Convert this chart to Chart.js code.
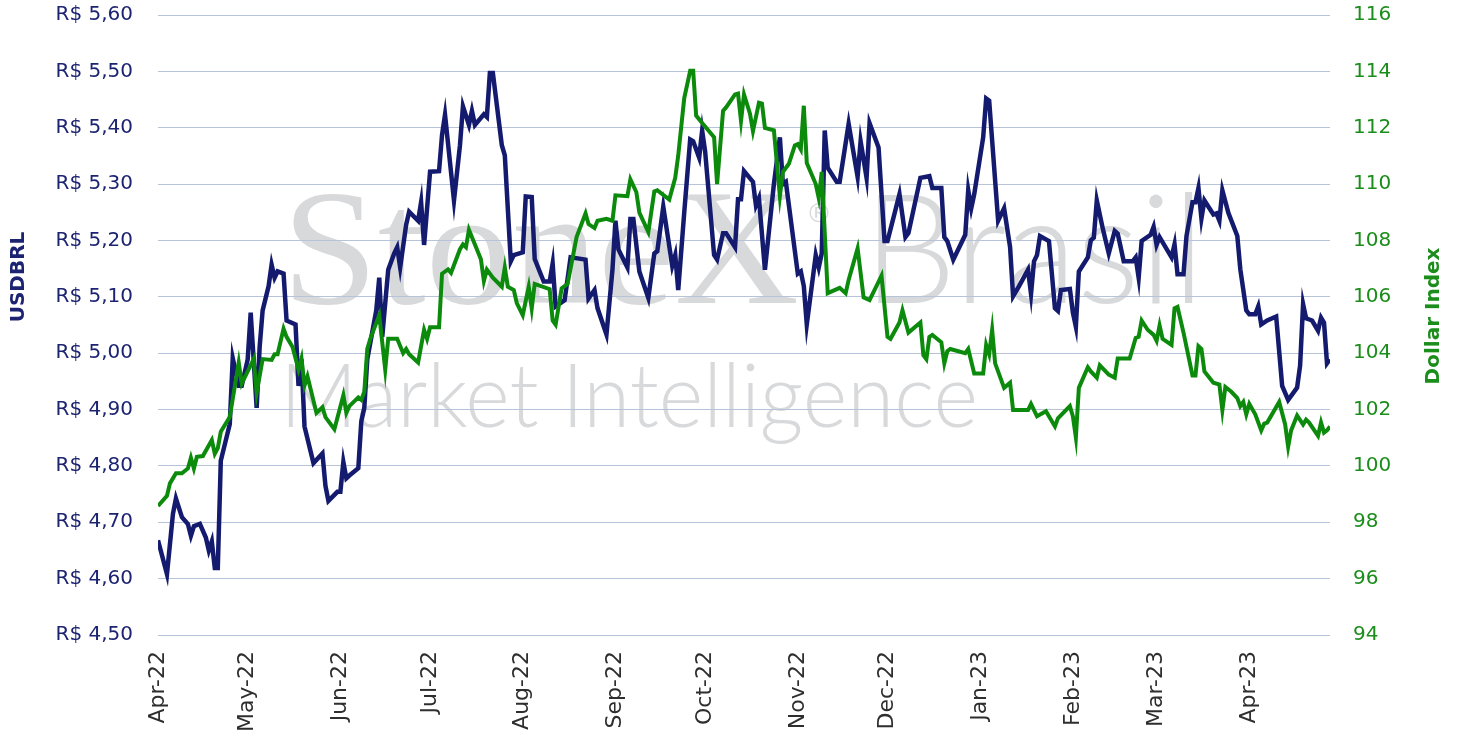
<!DOCTYPE html>
<html>
<head>
<meta charset="utf-8">
<script src="https://cdn.jsdelivr.net/npm/chart.js@4.4.1/dist/chart.umd.min.js"></script>
<style>
  html, body { margin: 0; padding: 0; background: #fff; }
  #wrap { width: 1458px; height: 738px; }
</style>
</head>
<body>
<div id="wrap"><canvas id="myChart"></canvas></div>
<script>
// month ticks on the date axis
const monthLabels = ['Apr-22', 'May-22', 'Jun-22', 'Jul-22', 'Aug-22', 'Sep-22', 'Oct-22',
  'Nov-22', 'Dec-22', 'Jan-23', 'Feb-23', 'Mar-23', 'Apr-23'];
const monthStarts = ['2022-04-01', '2022-05-01', '2022-06-01', '2022-07-01', '2022-08-01', '2022-09-01',
  '2022-10-01', '2022-11-01', '2022-12-01', '2023-01-01', '2023-02-01', '2023-03-01', '2023-04-01'];

// USDBRL (left axis)
const usdDates = [
  '2022-04-01','2022-04-04','2022-04-06','2022-04-07','2022-04-09','2022-04-11','2022-04-12','2022-04-13','2022-04-15','2022-04-17',
  '2022-04-18','2022-04-19','2022-04-20','2022-04-21','2022-04-22','2022-04-25','2022-04-26','2022-04-28','2022-04-29','2022-05-01',
  '2022-05-02','2022-05-04','2022-05-05','2022-05-06','2022-05-08','2022-05-09','2022-05-10','2022-05-11','2022-05-13','2022-05-14',
  '2022-05-17','2022-05-18','2022-05-19','2022-05-20','2022-05-23','2022-05-26','2022-05-27','2022-05-28','2022-05-31','2022-06-01',
  '2022-06-02','2022-06-03','2022-06-04','2022-06-07','2022-06-08','2022-06-09','2022-06-10','2022-06-13','2022-06-14','2022-06-15',
  '2022-06-17','2022-06-19','2022-06-20','2022-06-21','2022-06-23','2022-06-24','2022-06-27','2022-06-28','2022-06-29','2022-07-01',
  '2022-07-04','2022-07-05','2022-07-06','2022-07-09','2022-07-11','2022-07-12','2022-07-14','2022-07-15','2022-07-16','2022-07-19',
  '2022-07-20','2022-07-21','2022-07-22','2022-07-25','2022-07-26','2022-07-28','2022-07-29','2022-08-01','2022-08-02','2022-08-04',
  '2022-08-05','2022-08-08','2022-08-10','2022-08-11','2022-08-12','2022-08-15','2022-08-17','2022-08-22','2022-08-23','2022-08-25',
  '2022-08-26','2022-08-29','2022-08-31','2022-09-01','2022-09-02','2022-09-05','2022-09-06','2022-09-07','2022-09-09','2022-09-12',
  '2022-09-14','2022-09-15','2022-09-17','2022-09-20','2022-09-21','2022-09-22','2022-09-24','2022-09-26','2022-09-27','2022-09-29',
  '2022-09-30','2022-10-01','2022-10-04','2022-10-05','2022-10-07','2022-10-08','2022-10-11','2022-10-12','2022-10-13','2022-10-14',
  '2022-10-17','2022-10-18','2022-10-19','2022-10-21','2022-10-24','2022-10-26','2022-10-27','2022-10-28','2022-11-01','2022-11-02',
  '2022-11-03','2022-11-04','2022-11-07','2022-11-08','2022-11-09','2022-11-10','2022-11-11','2022-11-14','2022-11-15','2022-11-18',
  '2022-11-21','2022-11-22','2022-11-24','2022-11-25','2022-11-28','2022-11-30','2022-12-01','2022-12-05','2022-12-07','2022-12-08',
  '2022-12-12','2022-12-15','2022-12-16','2022-12-19','2022-12-20','2022-12-21','2022-12-23','2022-12-27','2022-12-28','2022-12-29',
  '2022-12-30','2023-01-02','2023-01-03','2023-01-04','2023-01-07','2023-01-09','2023-01-11','2023-01-12','2023-01-14','2023-01-17',
  '2023-01-18','2023-01-19','2023-01-20','2023-01-21','2023-01-24','2023-01-26','2023-01-27','2023-01-28','2023-01-31','2023-02-01',
  '2023-02-02','2023-02-03','2023-02-06','2023-02-07','2023-02-08','2023-02-09','2023-02-11','2023-02-13','2023-02-15','2023-02-16',
  '2023-02-18','2023-02-21','2023-02-22','2023-02-23','2023-02-24','2023-02-27','2023-02-28','2023-03-01','2023-03-02','2023-03-06',
  '2023-03-07','2023-03-08','2023-03-10','2023-03-11','2023-03-13','2023-03-14','2023-03-15','2023-03-16','2023-03-17','2023-03-20',
  '2023-03-21','2023-03-22','2023-03-23','2023-03-25','2023-03-28','2023-03-29','2023-03-31','2023-04-01','2023-04-03','2023-04-04',
  '2023-04-05','2023-04-07','2023-04-10','2023-04-12','2023-04-14','2023-04-17','2023-04-18','2023-04-19','2023-04-20','2023-04-22',
  '2023-04-24','2023-04-25','2023-04-26','2023-04-27','2023-04-28'
];
const usdValues = [
  4.668,4.608,4.715,4.742,4.709,4.697,4.676,4.693,4.697,4.673,
  4.650,4.666,4.619,4.619,4.809,4.874,4.991,4.942,4.942,4.989,
  5.072,4.903,5.011,5.076,5.119,5.157,5.134,5.145,5.141,5.058,
  5.051,4.942,4.989,4.870,4.805,4.822,4.765,4.738,4.754,4.754,
  4.807,4.778,4.783,4.796,4.879,4.903,4.989,5.076,5.134,5.029,
  5.148,5.177,5.188,5.152,5.228,5.251,5.235,5.268,5.192,5.322,
  5.323,5.387,5.423,5.271,5.369,5.438,5.405,5.430,5.405,5.424,
  5.419,5.497,5.497,5.369,5.351,5.163,5.174,5.179,5.278,5.277,
  5.167,5.127,5.127,5.159,5.083,5.094,5.170,5.166,5.097,5.112,
  5.080,5.033,5.148,5.235,5.184,5.152,5.238,5.238,5.145,5.098,
  5.177,5.181,5.260,5.155,5.174,5.112,5.249,5.379,5.376,5.347,
  5.395,5.358,5.174,5.166,5.213,5.213,5.188,5.273,5.273,5.323,
  5.304,5.262,5.275,5.148,5.300,5.383,5.300,5.304,5.141,5.145,
  5.119,5.051,5.174,5.152,5.177,5.395,5.329,5.304,5.304,5.407,
  5.313,5.376,5.311,5.408,5.365,5.199,5.199,5.282,5.206,5.213,
  5.311,5.314,5.293,5.293,5.206,5.199,5.166,5.210,5.289,5.257,
  5.282,5.383,5.452,5.448,5.235,5.257,5.188,5.101,5.119,5.148,
  5.105,5.163,5.174,5.208,5.199,5.080,5.075,5.112,5.114,5.072,
  5.047,5.145,5.170,5.200,5.205,5.271,5.221,5.177,5.217,5.212,
  5.163,5.163,5.170,5.134,5.199,5.210,5.224,5.192,5.206,5.170,
  5.193,5.140,5.140,5.208,5.268,5.268,5.293,5.239,5.271,5.246,
  5.248,5.235,5.289,5.249,5.208,5.149,5.076,5.069,5.069,5.083,
  5.051,5.058,5.065,4.942,4.917,4.939,4.978,5.087,5.062,5.058,
  5.040,5.063,5.054,4.982,4.989
];

// Dollar Index (right axis)
const dxyDates = [
  '2022-04-01','2022-04-04','2022-04-05','2022-04-07','2022-04-09','2022-04-11','2022-04-12','2022-04-13','2022-04-14','2022-04-16',
  '2022-04-19','2022-04-20','2022-04-21','2022-04-22','2022-04-25','2022-04-28','2022-04-29','2022-05-03','2022-05-04','2022-05-06',
  '2022-05-09','2022-05-10','2022-05-11','2022-05-13','2022-05-14','2022-05-16','2022-05-18','2022-05-19','2022-05-20','2022-05-21',
  '2022-05-24','2022-05-26','2022-05-27','2022-05-30','2022-06-02','2022-06-03','2022-06-04','2022-06-07','2022-06-08','2022-06-09',
  '2022-06-10','2022-06-11','2022-06-14','2022-06-16','2022-06-17','2022-06-20','2022-06-22','2022-06-23','2022-06-24','2022-06-27',
  '2022-06-29','2022-06-30','2022-07-01','2022-07-04','2022-07-05','2022-07-07','2022-07-08','2022-07-11','2022-07-12','2022-07-13',
  '2022-07-14','2022-07-16','2022-07-18','2022-07-19','2022-07-20','2022-07-22','2022-07-25','2022-07-26','2022-07-27','2022-07-29',
  '2022-07-30','2022-08-01','2022-08-03','2022-08-04','2022-08-05','2022-08-10','2022-08-11','2022-08-12','2022-08-14','2022-08-16',
  '2022-08-19','2022-08-22','2022-08-23','2022-08-25','2022-08-26','2022-08-29','2022-08-31','2022-09-01','2022-09-05','2022-09-06',
  '2022-09-08','2022-09-09','2022-09-12','2022-09-14','2022-09-15','2022-09-19','2022-09-21','2022-09-22','2022-09-24','2022-09-26',
  '2022-09-27','2022-09-28','2022-09-30','2022-10-04','2022-10-05','2022-10-07','2022-10-08','2022-10-11','2022-10-12','2022-10-13',
  '2022-10-14','2022-10-16','2022-10-17','2022-10-19','2022-10-20','2022-10-21','2022-10-24','2022-10-26','2022-10-27','2022-10-29',
  '2022-10-31','2022-11-01','2022-11-02','2022-11-03','2022-11-04','2022-11-07','2022-11-08','2022-11-09','2022-11-11','2022-11-15',
  '2022-11-17','2022-11-18','2022-11-21','2022-11-23','2022-11-25','2022-11-29','2022-12-01','2022-12-02','2022-12-05','2022-12-06',
  '2022-12-08','2022-12-12','2022-12-13','2022-12-14','2022-12-15','2022-12-16','2022-12-19','2022-12-20','2022-12-21','2022-12-22',
  '2022-12-27','2022-12-28','2022-12-30','2023-01-02','2023-01-03','2023-01-04','2023-01-05','2023-01-06','2023-01-09','2023-01-11',
  '2023-01-12','2023-01-17','2023-01-18','2023-01-20','2023-01-23','2023-01-26','2023-01-27','2023-01-31','2023-02-01','2023-02-02',
  '2023-02-03','2023-02-06','2023-02-07','2023-02-09','2023-02-10','2023-02-13','2023-02-15','2023-02-16','2023-02-18','2023-02-20',
  '2023-02-22','2023-02-23','2023-02-24','2023-02-26','2023-02-28','2023-03-01','2023-03-02','2023-03-03','2023-03-06','2023-03-07',
  '2023-03-08','2023-03-10','2023-03-13','2023-03-14','2023-03-15','2023-03-16','2023-03-17','2023-03-20','2023-03-22','2023-03-23',
  '2023-03-24','2023-03-26','2023-03-28','2023-03-29','2023-03-30','2023-03-31','2023-04-01','2023-04-03','2023-04-05','2023-04-06',
  '2023-04-07','2023-04-11','2023-04-13','2023-04-14','2023-04-15','2023-04-17','2023-04-19','2023-04-20','2023-04-21','2023-04-24',
  '2023-04-25','2023-04-26','2023-04-27','2023-04-28'
];
const dxyValues = [
  98.58,98.94,99.38,99.74,99.74,99.91,100.29,99.91,100.32,100.35,
  100.92,100.43,100.63,101.21,101.73,103.67,102.92,103.79,102.60,103.79,
  103.76,103.96,103.96,104.87,104.58,104.22,103.42,103.81,102.85,103.18,
  101.88,102.08,101.73,101.30,102.51,101.88,102.12,102.43,102.34,102.63,
  104.15,104.51,105.35,103.42,104.51,104.51,104.00,104.15,103.96,103.67,
  104.83,104.51,104.92,104.92,106.82,106.97,106.85,107.69,107.86,107.76,
  108.38,107.86,107.33,106.56,106.97,106.68,106.36,107.04,106.36,106.24,
  105.78,105.35,106.36,105.59,106.46,106.27,105.16,105.01,106.30,106.46,
  108.12,108.96,108.58,108.44,108.70,108.77,108.70,109.60,109.57,110.17,
  109.71,108.99,108.30,109.74,109.78,109.45,110.22,111.01,113.04,114.02,
  114.02,112.43,112.17,111.66,110.00,112.60,112.72,113.18,113.21,112.24,
  113.18,112.50,111.88,112.89,112.86,111.99,111.91,109.57,110.43,110.72,
  111.37,111.42,111.23,112.78,110.75,110.00,109.50,110.43,106.13,106.32,
  106.13,106.60,107.72,105.98,105.88,106.75,104.58,104.51,105.09,105.52,
  104.73,105.09,103.93,103.79,104.58,104.65,104.39,103.64,104.07,104.15,
  104.00,104.15,103.28,103.28,104.29,103.96,104.83,103.64,102.77,102.95,
  101.98,101.98,102.20,101.76,101.94,101.40,101.69,102.12,101.76,101.01,
  102.77,103.50,103.35,103.13,103.57,103.24,103.13,103.81,103.81,103.81,
  104.54,104.58,105.16,104.83,104.65,104.44,104.99,104.51,104.29,105.59,
  105.64,104.73,103.21,103.21,104.25,104.15,103.35,102.95,102.89,101.98,
  102.80,102.63,102.41,102.12,102.27,101.83,102.20,101.83,101.26,101.50,
  101.54,102.27,101.47,100.68,101.26,101.79,101.47,101.64,101.54,101.07,
  101.54,101.18,101.26,101.40
];

const NAVY = '#141b6e';
const NAVY_TEXT = '#1c2472';
const GREEN = '#0c8a0c';
const GREEN_TEXT = '#1b8d1b';
const GRID = '#b7c3d9';

const t0 = Date.parse('2022-04-01');
const toDay = s => (Date.parse(s) - t0) / 86400000;
const points = (dates, vals) => dates.map((d, i) => ({ x: toDay(d), y: vals[i] }));

// fills a text and stretches it to a given width
function fitText(c, text, font, x, y, w) {
  c.font = font;
  const m = c.measureText(text).width;
  c.save();
  c.translate(x, y);
  c.scale(w / m, 1);
  c.fillText(text, 0, 0);
  c.restore();
}

const watermark = {
  id: 'watermark',
  beforeDraw(chart) {
    const c = chart.ctx;
    const a = chart.chartArea;
    c.save();
    c.fillStyle = '#fff';
    c.fillRect(0, 0, chart.width, chart.height);
    c.fillStyle = '#d8d9db';
    c.textBaseline = 'alphabetic';
    fitText(c, 'StoneX', '166px "Liberation Serif"', a.left + 124, 303, 517);
    fitText(c, 'Brasil', '300 153px Lato', a.left + 705, 303, 342);
    fitText(c, 'Market Intelligence', '300 89px Lato', a.left + 122, 427, 698);
    c.font = '26px "DejaVu Sans"';
    c.fillText('®', a.left + 648, 222);
    c.restore();
  }
};

const axisTitles = {
  id: 'axisTitles',
  afterDraw(chart) {
    const c = chart.ctx;
    const title = (text, color, x, y) => {
      c.save();
      c.font = 'bold 20px "DejaVu Sans"';
      c.textAlign = 'center';
      c.textBaseline = 'middle';
      c.fillStyle = color;
      c.translate(x, y);
      c.rotate(-Math.PI / 2);
      c.fillText(text, 0, 0);
      c.restore();
    };
    title('USDBRL', NAVY_TEXT, 19, 277);
    title('Dollar Index', GREEN_TEXT, 1434, 316);
  }
};

// keep the plot box fixed, tick label overflow must not shrink it
const noPad = s => { s.paddingTop = 0; s.paddingBottom = 0; };

window.addEventListener('DOMContentLoaded', () => {
  const ctx = document.getElementById('myChart');
  new Chart(ctx, {
    type: 'line',
    data: {
      datasets: [{
        label: 'Dollar Index',
        data: points(dxyDates, dxyValues),
        yAxisID: 'y1',
        borderColor: GREEN,
        borderWidth: 4,
        pointRadius: 0,
        tension: 0,
        order: 1
      }, {
        label: 'USDBRL',
        data: points(usdDates, usdValues),
        yAxisID: 'y',
        borderColor: NAVY,
        borderWidth: 4.5,
        pointRadius: 0,
        tension: 0,
        order: 2
      }]
    },
    options: {
      responsive: true,
      maintainAspectRatio: false,
      animation: false,
      layout: { padding: { top: 15, left: 0, right: 0, bottom: 0 } },
      plugins: {
        legend: { display: false },
        tooltip: { enabled: false }
      },
      scales: {
        x: {
          type: 'linear',
          min: 0,
          max: toDay(usdDates[usdDates.length - 1]),
          afterBuildTicks: s => { s.ticks = monthStarts.map(d => ({ value: toDay(d) })); },
          afterFit: s => { s.height = 103; s.paddingLeft = 0; s.paddingRight = 0; },
          grid: { display: false, drawTicks: false },
          border: { display: false },
          ticks: {
            autoSkip: false,
            minRotation: 90,
            maxRotation: 90,
            padding: 16,
            color: '#2e2e2e',
            font: { family: '"DejaVu Sans"', size: 22 },
            callback: (v, i) => monthLabels[i]
          }
        },
        y: {
          position: 'left',
          min: 4.5,
          max: 5.6,
          afterFit: s => { s.width = 158; noPad(s); },
          grid: { color: GRID, lineWidth: 1, drawTicks: false },
          border: { display: false },
          ticks: {
            stepSize: 0.1,
            padding: 25,
            color: NAVY_TEXT,
            font: { family: '"DejaVu Sans"', size: 20 },
            callback: v => 'R$ ' + v.toFixed(2).replace('.', ',')
          }
        },
        y1: {
          position: 'right',
          min: 94,
          max: 116,
          afterFit: s => { s.width = 128; noPad(s); },
          grid: { display: false, drawTicks: false },
          border: { display: false },
          ticks: {
            stepSize: 2,
            padding: 23,
            color: GREEN_TEXT,
            font: { family: '"DejaVu Sans"', size: 20 }
          }
        }
      }
    },
    plugins: [watermark, axisTitles]
  });
});
</script>
</body>
</html>
